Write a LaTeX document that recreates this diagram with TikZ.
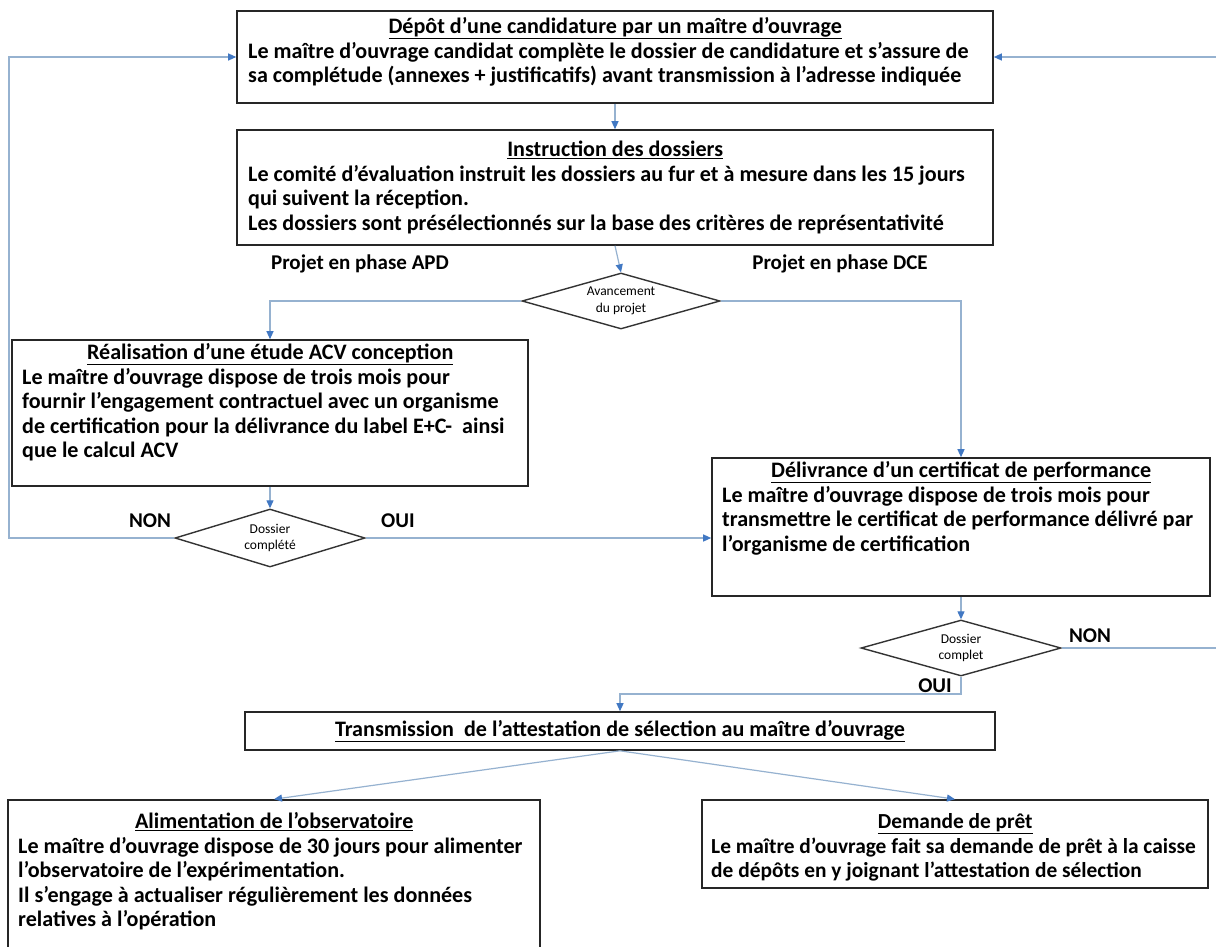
\documentclass[tikz,border=0pt]{standalone}
\usepackage{fontspec}
\setmainfont{Carlito}
\usetikzlibrary{arrows.meta,shapes.geometric,calc}
\definecolor{linec}{RGB}{150,178,208}
\definecolor{arrc}{RGB}{65,120,195}
\newcommand{\boxtitle}[2]{\makebox[#1][c]{\strut\underline{#2}}}
\tikzset{
  box/.style={draw=black!85, line width=1.6pt, fill=white, inner sep=0pt},
  txt/.style={inner sep=0pt, anchor=north west, align=left,
    font=\fontsize{22.1}{24.6}\selectfont\bfseries},
  lbl/.style={inner sep=0pt, font=\fontsize{21}{24.5}\selectfont\bfseries},
  dia/.style={diamond, aspect=3.5, draw=black!80, line width=1.4pt, fill=white, inner sep=0pt,
    align=center, font=\fontsize{13.5}{16.5}\selectfont},
  conn/.style={draw=linec, line width=1.2pt},
  arr/.style={conn, -{Triangle[length=8pt,width=7pt,color=arrc]}}
}
\begin{document}
\begin{tikzpicture}[x=1pt,y=-1pt]
\useasboundingbox (0,0) rectangle (1216,946);
\clip (0,0) rectangle (1216,946);
\fill[white] (0,0) rectangle (1216,946);
\coordinate (L) at (9,0);
\coordinate (R) at (1230,0);
\coordinate (via) at (0,694);

% boxes
\node[box, minimum width=756, minimum height=92] (b1) at (615,57) {};
\node[box, minimum width=756, minimum height=115] (b2) at (615,187.5) {};
\node[box, minimum width=516, minimum height=146] (b3) at (270,413) {};
\node[box, minimum width=498, minimum height=138] (b4) at (961,527) {};
\node[box, minimum width=750, minimum height=38] (b5) at (620,731) {};
\node[box, minimum width=532, minimum height=170] (b6) at (274,885) {};
\node[box, minimum width=506, minimum height=88] (b7) at (955,844) {};

% texts
\node[txt] (t1) at (248,16) {\boxtitle{734pt}{Dépôt d’une candidature par un maître d’ouvrage}\\
Le maître d’ouvrage candidat complète le dossier de candidature et s’assure de\\
sa complétude (annexes + justificatifs) avant transmission à l’adresse indiquée};
\node[txt] (t2) at (248,139) {\boxtitle{734pt}{Instruction des dossiers}\\
Le comité d’évaluation instruit les dossiers au fur et à mesure dans les 15 jours\\
qui suivent la réception.\\
Les dossiers sont présélectionnés sur la base des critères de représentativité};
\node[txt] (t3) at (22,342) {\boxtitle{496pt}{Réalisation d’une étude ACV conception}\\
Le maître d’ouvrage dispose de trois mois pour\\
fournir l’engagement contractuel avec un organisme\\
de certification pour la délivrance du label E+C-~ ainsi\\
que le calcul ACV};
\node[txt] (t4) at (722,460) {\boxtitle{478pt}{Délivrance d’un certificat de performance}\\
Le maître d’ouvrage dispose de trois mois pour\\
transmettre le certificat de performance délivré par\\
l’organisme de certification};
\node[lbl, font=\fontsize{22.1}{24.6}\selectfont\bfseries] (t5) at (b5) {\underline{Transmission~ de l’attestation de sélection au maître d’ouvrage}};
\node[txt] (t6) at (18,811) {\boxtitle{512pt}{Alimentation de l’observatoire}\\
Le maître d’ouvrage dispose de 30 jours pour alimenter\\
l’observatoire de l’expérimentation.\\
Il s’engage à actualiser régulièrement les données\\
relatives à l’opération};
\node[txt, font=\fontsize{21.4}{24.6}\selectfont\bfseries] (t7) at (711,811) {\boxtitle{488pt}{Demande de prêt}\\
Le maître d’ouvrage fait sa demande de prêt à la caisse\\
de dépôts en y joignant l’attestation de sélection};

% diamonds
\node[dia, minimum width=198, minimum height=56] (d1) at (621,301) {Avancement\\du projet};
\node[dia, minimum width=190, minimum height=58] (d2) at (270,538) {Dossier\\complété};
\node[dia, minimum width=200, minimum height=56] (d3) at (961,648) {Dossier\\complet};

% labels
\node[lbl] (lapd) at (360,264) {Projet en phase APD};
\node[lbl] (ldce) at (840,264) {Projet en phase DCE};
\node[lbl] (lnon1) at (150,521) {NON};
\node[lbl] (loui1) at (398,521) {OUI};
\node[lbl] (lnon2) at (1090,636) {NON};
\node[lbl] (loui2) at (935,686) {OUI};

% connectors
\draw[arr] (b1.south) -- (b2.north);
\draw[arr] (b2.south) -- (d1.north);
\draw[arr] (d1.west) -| (b3.north);
\draw[arr] (d1.east) -| (b4.north);
\draw[arr] (b3.south) -- (d2.north);
\draw[arr] (d2.east) -- (d2.east -| b4.west);
\draw[arr] (d2.west) -- (d2.west -| L) |- (b1.west);
\draw[arr] (b4.south) -- (d3.north);
\draw[arr] (d3.east) -- (d3.east -| R) |- (b1.east);
\draw[arr] (d3.south) -- (d3.south |- via) -| (b5.north);
\draw[arr] (b5.south) -- (b6.north);
\draw[arr] (b5.south) -- (b7.north);
\end{tikzpicture}
\end{document}
